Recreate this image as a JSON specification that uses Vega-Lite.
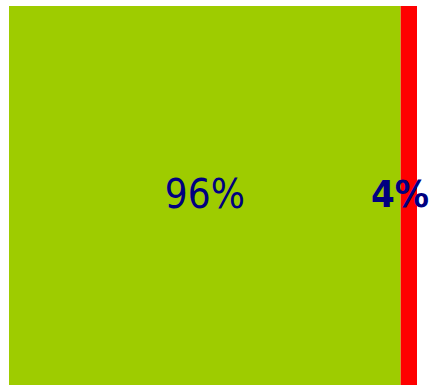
{
  "$schema": "https://vega.github.io/schema/vega-lite/v6.json",
  "width": 408,
  "height": 379,
  "autosize": "none",
  "padding": {"left": 9, "top": 6, "right": 13, "bottom": 0},
  "background": "white",
  "config": {"view": {"stroke": null}},
  "data": {"values": [
    {"category": "Yes", "value": 96, "label": "96%"},
    {"category": "No", "value": 4, "label": "4%"}
  ]},
  "transform": [
    {"stack": "value", "groupby": [], "sort": [{"field": "value", "order": "descending"}], "as": ["start", "end"]},
    {"calculate": "(datum.start + datum.end) / 2", "as": "mid"}
  ],
  "layer": [
    {
      "mark": {"type": "bar", "stroke": null},
      "encoding": {
        "x": {"field": "start", "type": "quantitative", "scale": {"domain": [0, 100], "nice": false, "zero": true}, "axis": null},
        "x2": {"field": "end"},
        "y": {"value": 0},
        "y2": {"value": "height"},
        "color": {"field": "category", "type": "nominal", "scale": {"domain": ["Yes", "No"], "range": ["#9ECC00", "#FF0000"]}, "legend": null}
      }
    },
    {
      "transform": [{"filter": "datum.category === 'Yes'"}],
      "mark": {"type": "text", "font": "DejaVu Sans Condensed, DejaVu Sans", "fontSize": 40, "color": "#000080", "baseline": "middle", "align": "center"},
      "encoding": {
        "x": {"field": "mid", "type": "quantitative", "scale": {"domain": [0, 100]}},
        "y": {"value": {"expr": "height/2"}},
        "text": {"field": "label"}
      }
    },
    {
      "transform": [{"filter": "datum.category === 'No'"}],
      "mark": {"type": "text", "font": "DejaVu Sans Condensed, DejaVu Sans", "fontSize": 38, "fontWeight": "bold", "color": "#000080", "baseline": "middle", "align": "right", "dx": 12},
      "encoding": {
        "x": {"field": "end", "type": "quantitative", "scale": {"domain": [0, 100]}},
        "y": {"value": {"expr": "height/2"}},
        "text": {"field": "label"}
      }
    }
  ]
}
